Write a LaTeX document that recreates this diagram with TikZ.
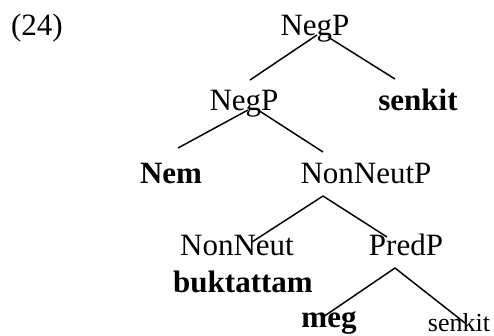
\documentclass[tikz,border=0pt]{standalone}
\usepackage{fontspec}
\setmainfont{Liberation Serif}
\usepackage{tikz}

\begin{document}
\begin{tikzpicture}[x=0.75pt,y=-0.75pt,
    every node/.style={inner sep=0pt,anchor=base,font=\fontsize{23.25}{28}\selectfont},
    lex/.style={font=\fontsize{23.25}{28}\selectfont\bfseries},
    small/.style={font=\fontsize{19.5}{24}\selectfont},
    line width=1.1pt]

    \useasboundingbox (0,0) rectangle (494,336);

    \node at (37,35) (ex) {(24)};
    \node at (315,35) (negp) {NegP};
    \node at (244,110) (negpb) {NegP};
    \node[lex] at (418,110) (senkitA) {senkit};
    \node[lex] at (171,183) (nem) {Nem};
    \node at (366,183) (nonneutp) {NonNeutP};
    \node at (237,255) (nonneut) {NonNeut};
    \node at (406,255) (predp) {PredP};
    \node[lex] at (243,292) (buk) {buktattam};
    \node[lex] at (329,327) (meg) {meg};
    \node[small] at (459,331) (senkitB) {senkit};

    \draw ([shift={(2,0)}]negp.base) -- ([shift={(6,-30)}]negpb.base);
    \draw ([shift={(13,2)}]negp.base) -- ([shift={(-23,-31)}]senkitA.base);
    \draw ([shift={(4,0)}]negpb.base) -- ([shift={(7,-35)}]nem.base);
    \draw ([shift={(14,0)}]negpb.base) -- ([shift={(-43,-31)}]nonneutp.base);
    \draw ([shift={(-43,13)}]nonneutp.base) -- ([shift={(15,-13)}]nonneut.base);
    \draw ([shift={(-43,13)}]nonneutp.base) -- ([shift={(-19,-18)}]predp.base);
    \draw ([shift={(-11,13)}]predp.base) -- ([shift={(-6,-10)}]meg.base);
    \draw ([shift={(-11,13)}]predp.base) -- ([shift={(6,-8)}]senkitB.base);
\end{tikzpicture}
\end{document}
